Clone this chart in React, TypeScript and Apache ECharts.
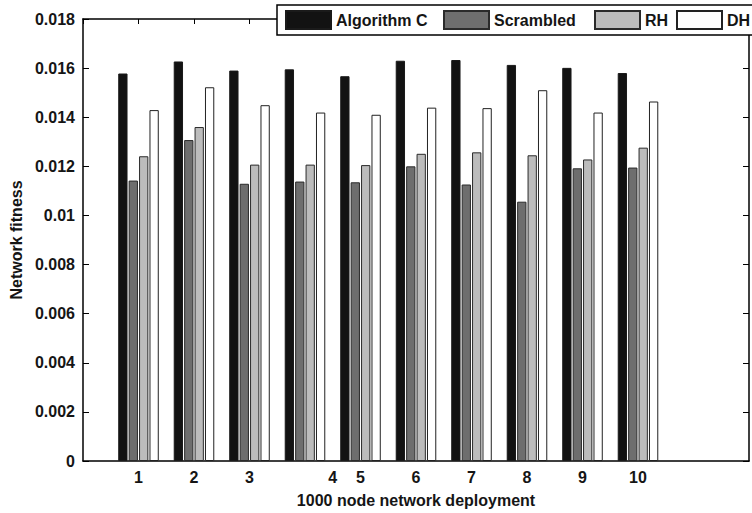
import React, { useEffect, useRef } from "react";
import * as echarts from "echarts";

// Deployments (x positions of the bar groups)
const deployments = [1, 2, 3, 4, 5, 6, 7, 8, 9, 10];

// Network fitness per deployment
const algorithmC = [0.01578, 0.01627, 0.0159, 0.01595, 0.01567, 0.0163, 0.01633, 0.01613, 0.01601, 0.0158];
const scrambled = [0.01142, 0.01307, 0.01129, 0.01138, 0.01135, 0.012, 0.01126, 0.01056, 0.01192, 0.01195];
const rh = [0.01241, 0.0136, 0.01207, 0.01207, 0.01205, 0.01251, 0.01257, 0.01245, 0.01228, 0.01276];
const dh = [0.01429, 0.01522, 0.01449, 0.01419, 0.0141, 0.01439, 0.01437, 0.0151, 0.01419, 0.01464];

const seriesNames = ["Algorithm C", "Scrambled", "RH", "DH"];

// Bottom tick labels and where they sit on the x scale ("4" is offset by half a step)
const xTickLabels = ["1", "2", "3", "4", "5", "6", "7", "8", "9", "10"];
const xTickPositions = [1, 2, 3, 4.5, 5, 6, 7, 8, 9, 10];

const FONT = "'Liberation Sans', Arial, Helvetica, sans-serif";

// Fixed key column widths (text part of each legend entry)
const keyTextWidths = [107, 100, 31, 30];

export default function App() {
  const ref = useRef<HTMLDivElement>(null);

  useEffect(() => {
    document.body.style.margin = "0";
    document.body.style.overflow = "hidden";
    document.documentElement.style.overflow = "hidden";
    const chart = echarts.init(ref.current!, null, { renderer: "svg" });

    const pairs = (vals: number[]) => deployments.map((d, i) => [d, vals[i]]);
    const labelAt = new Map<number, string>();
    xTickPositions.forEach((p, i) => labelAt.set(p, xTickLabels[i]));

    const textBase = { fontFamily: FONT, fontWeight: "bold" as const, fontSize: 16, color: "#151515" };

    const rich: Record<string, object> = {};
    keyTextWidths.forEach((w, i) => {
      rich["k" + i] = { ...textBase, width: w, lineHeight: 18, align: "left" };
    });

    const barSeries = (name: string, vals: number[], color: string, border: string, bw: number) => ({
      name,
      type: "bar",
      xAxisIndex: 0,
      yAxisIndex: 0,
      data: pairs(vals),
      barWidth: 9.3,
      barGap: "12%",
      itemStyle: { color, borderColor: border, borderWidth: bw },
    });

    chart.setOption({
      animation: false,
      backgroundColor: "#fff",
      grid: { left: 82, right: -2, top: 19, bottom: 49, containLabel: false },
      legend: {
        left: 277,
        top: 5,
        width: 900,
        orient: "horizontal",
        padding: [5, 8, 5, 8],
        itemWidth: 45,
        itemHeight: 18,
        itemGap: 0,
        borderColor: "#000",
        borderWidth: 1.5,
        borderRadius: 0,
        backgroundColor: "#fff",
        textStyle: { ...textBase, rich },
        formatter: (name: string) => `{k${seriesNames.indexOf(name)}|${name}}`,
        icon: "rect",
        data: seriesNames,
      },
      xAxis: [
        {
          type: "value",
          position: "bottom",
          min: 0,
          max: 12,
          interval: 0.5,
          name: "1000 node network deployment",
          nameLocation: "middle",
          nameGap: 31,
          nameTextStyle: textBase,
          axisLine: { show: true, onZero: false, lineStyle: { color: "#000", width: 1.5 } },
          axisTick: { show: false },
          splitLine: { show: false },
          axisLabel: {
            ...textBase,
            margin: 8,
            showMinLabel: true,
            showMaxLabel: true,
            formatter: (v: number) => labelAt.get(Math.round(v * 2) / 2) ?? "",
          },
        },
        {
          type: "value",
          position: "top",
          min: 0,
          max: 12,
          interval: 1,
          axisLine: { show: true, onZero: false, lineStyle: { color: "#000", width: 1.5 } },
          axisTick: { show: true, inside: true, length: 5, lineStyle: { color: "#000", width: 1 } },
          axisLabel: { show: false },
          splitLine: { show: false },
        },
      ],
      yAxis: [
        {
          type: "value",
          position: "left",
          min: 0,
          max: 0.018,
          interval: 0.002,
          name: "Network fitness",
          nameLocation: "middle",
          nameGap: 59,
          nameRotate: 90,
          nameTextStyle: textBase,
          axisLine: { show: true, onZero: false, lineStyle: { color: "#000", width: 1.5 } },
          axisTick: { show: true, inside: true, length: 6, lineStyle: { color: "#000", width: 1 } },
          splitLine: { show: false },
          axisLabel: {
            ...textBase,
            margin: 8,
            formatter: (v: number) => (v === 0 ? "0" : String(parseFloat(v.toFixed(3)))),
          },
        },
        {
          type: "value",
          position: "right",
          min: 0,
          max: 0.018,
          interval: 0.002,
          axisLine: { show: true, onZero: false, lineStyle: { color: "#000", width: 1.5 } },
          axisTick: { show: true, inside: true, length: 6, lineStyle: { color: "#000", width: 1 } },
          axisLabel: { show: false },
          splitLine: { show: false },
        },
      ],
      series: [
        barSeries(seriesNames[0], algorithmC, "#121212", "#1a1a1a", 1),
        barSeries(seriesNames[1], scrambled, "#6e6e6e", "#2a2a2a", 1),
        barSeries(seriesNames[2], rh, "#bcbcbc", "#2a2a2a", 1),
        barSeries(seriesNames[3], dh, "#ffffff", "#222222", 1),
      ],
    });

    return () => chart.dispose();
  }, []);

  return (
    <div style={{ width: 752, height: 513, overflow: "hidden", position: "relative" }}>
      <div ref={ref} style={{ width: 752, height: 513 }} />
    </div>
  );
}
